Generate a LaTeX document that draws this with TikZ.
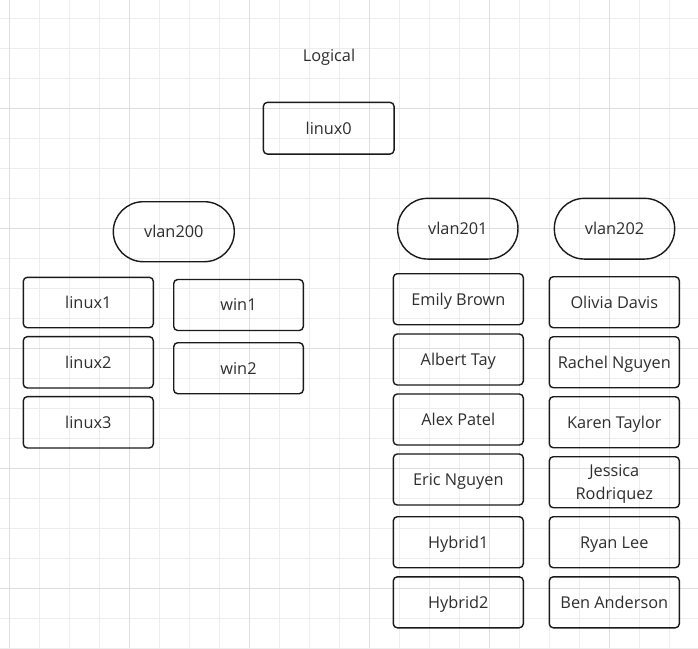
\documentclass[tikz,border=0pt]{standalone}
\usepackage{fontspec}
\setmainfont{Open Sans}
\begin{document}
\begin{tikzpicture}[x=1pt,y=-1pt,
  every node/.style={font=\fontsize{16.3}{23.5}\selectfont, text=txt},
  box/.style={draw=edge, line width=1.4pt, rounded corners=4pt, minimum width=130pt, minimum height=51pt, inner sep=0pt, align=center, text depth=0pt},
  pill/.style={draw=edge, line width=1.4pt, rounded corners=30pt, minimum width=121pt, minimum height=60pt, inner sep=0pt}]
\definecolor{edge}{HTML}{1A1A1A}
\definecolor{txt}{HTML}{2E2E2E}
\definecolor{gridminor}{HTML}{EDEDED}
\definecolor{gridmajor}{HTML}{DEDEDE}
\useasboundingbox (0,0) rectangle (698,648);
\fill[white] (0,0) rectangle (698,648);
% grid
\foreach \gx in {9.5,39.5,...,698} {\draw[gridminor, line width=1pt] (\gx,0) -- (\gx,648);}
\foreach \gy in {18,48,...,648} {\draw[gridminor, line width=1pt] (0,\gy) -- (698,\gy);}
\foreach \gx in {9.5,129.5,...,698} {\draw[gridmajor, line width=1pt] (\gx,0) -- (\gx,648);}
\foreach \gy in {108,228,...,648} {\draw[gridmajor, line width=1pt] (0,\gy) -- (698,\gy);}
% title
\node (title) at (329,57) {Logical};
\node[box, minimum width=130.7pt, minimum height=51.7pt] (linux0) at (328.7,128.2) {linux0};
% vlan200
\node[pill] (vlan200) at (173.8,231.7) {vlan200};
\node[box, minimum height=50.4pt] (linux1) at (88.3,302.5) {linux1};
\node[box, minimum height=51.3pt] (linux2) at (88.3,362.3) {linux2};
\node[box, minimum height=51.3pt] (linux3) at (88.3,422.3) {linux3};
\node[box, minimum width=129.6pt] (win1) at (238.5,305) {win1};
\node[box, minimum width=129.6pt] (win2) at (238.5,368.2) {win2};
% vlan201
\node[pill, minimum width=120.3pt, minimum height=60.7pt] (vlan201) at (457.8,228.7) {vlan201};
\node[box] (emily) at (458.3,299.2) {Emily Brown};
\node[box] (albert) at (458.3,359.5) {Albert Tay};
\node[box] (alex) at (458.3,419.5) {Alex Patel};
\node[box] (eric) at (458.3,479.5) {Eric Nguyen};
\node[box] (hybrid1) at (458.3,542.2) {Hybrid1};
\node[box] (hybrid2) at (458.3,602.3) {Hybrid2};
% vlan202
\node[pill, minimum width=120.3pt, minimum height=60.7pt] (vlan202) at (614.5,228.7) {vlan202};
\node[box] (olivia) at (614.3,302.2) {Olivia Davis};
\node[box] (rachel) at (614.3,362.2) {Rachel Nguyen};
\node[box] (karen) at (614.3,422.2) {Karen Taylor};
\node[box] (jessica) at (614.3,482.2) {Jessica\\Rodriquez};
\node[box] (ryan) at (614.3,542.2) {Ryan Lee};
\node[box] (ben) at (614.3,602.3) {Ben Anderson};
\end{tikzpicture}
\end{document}
